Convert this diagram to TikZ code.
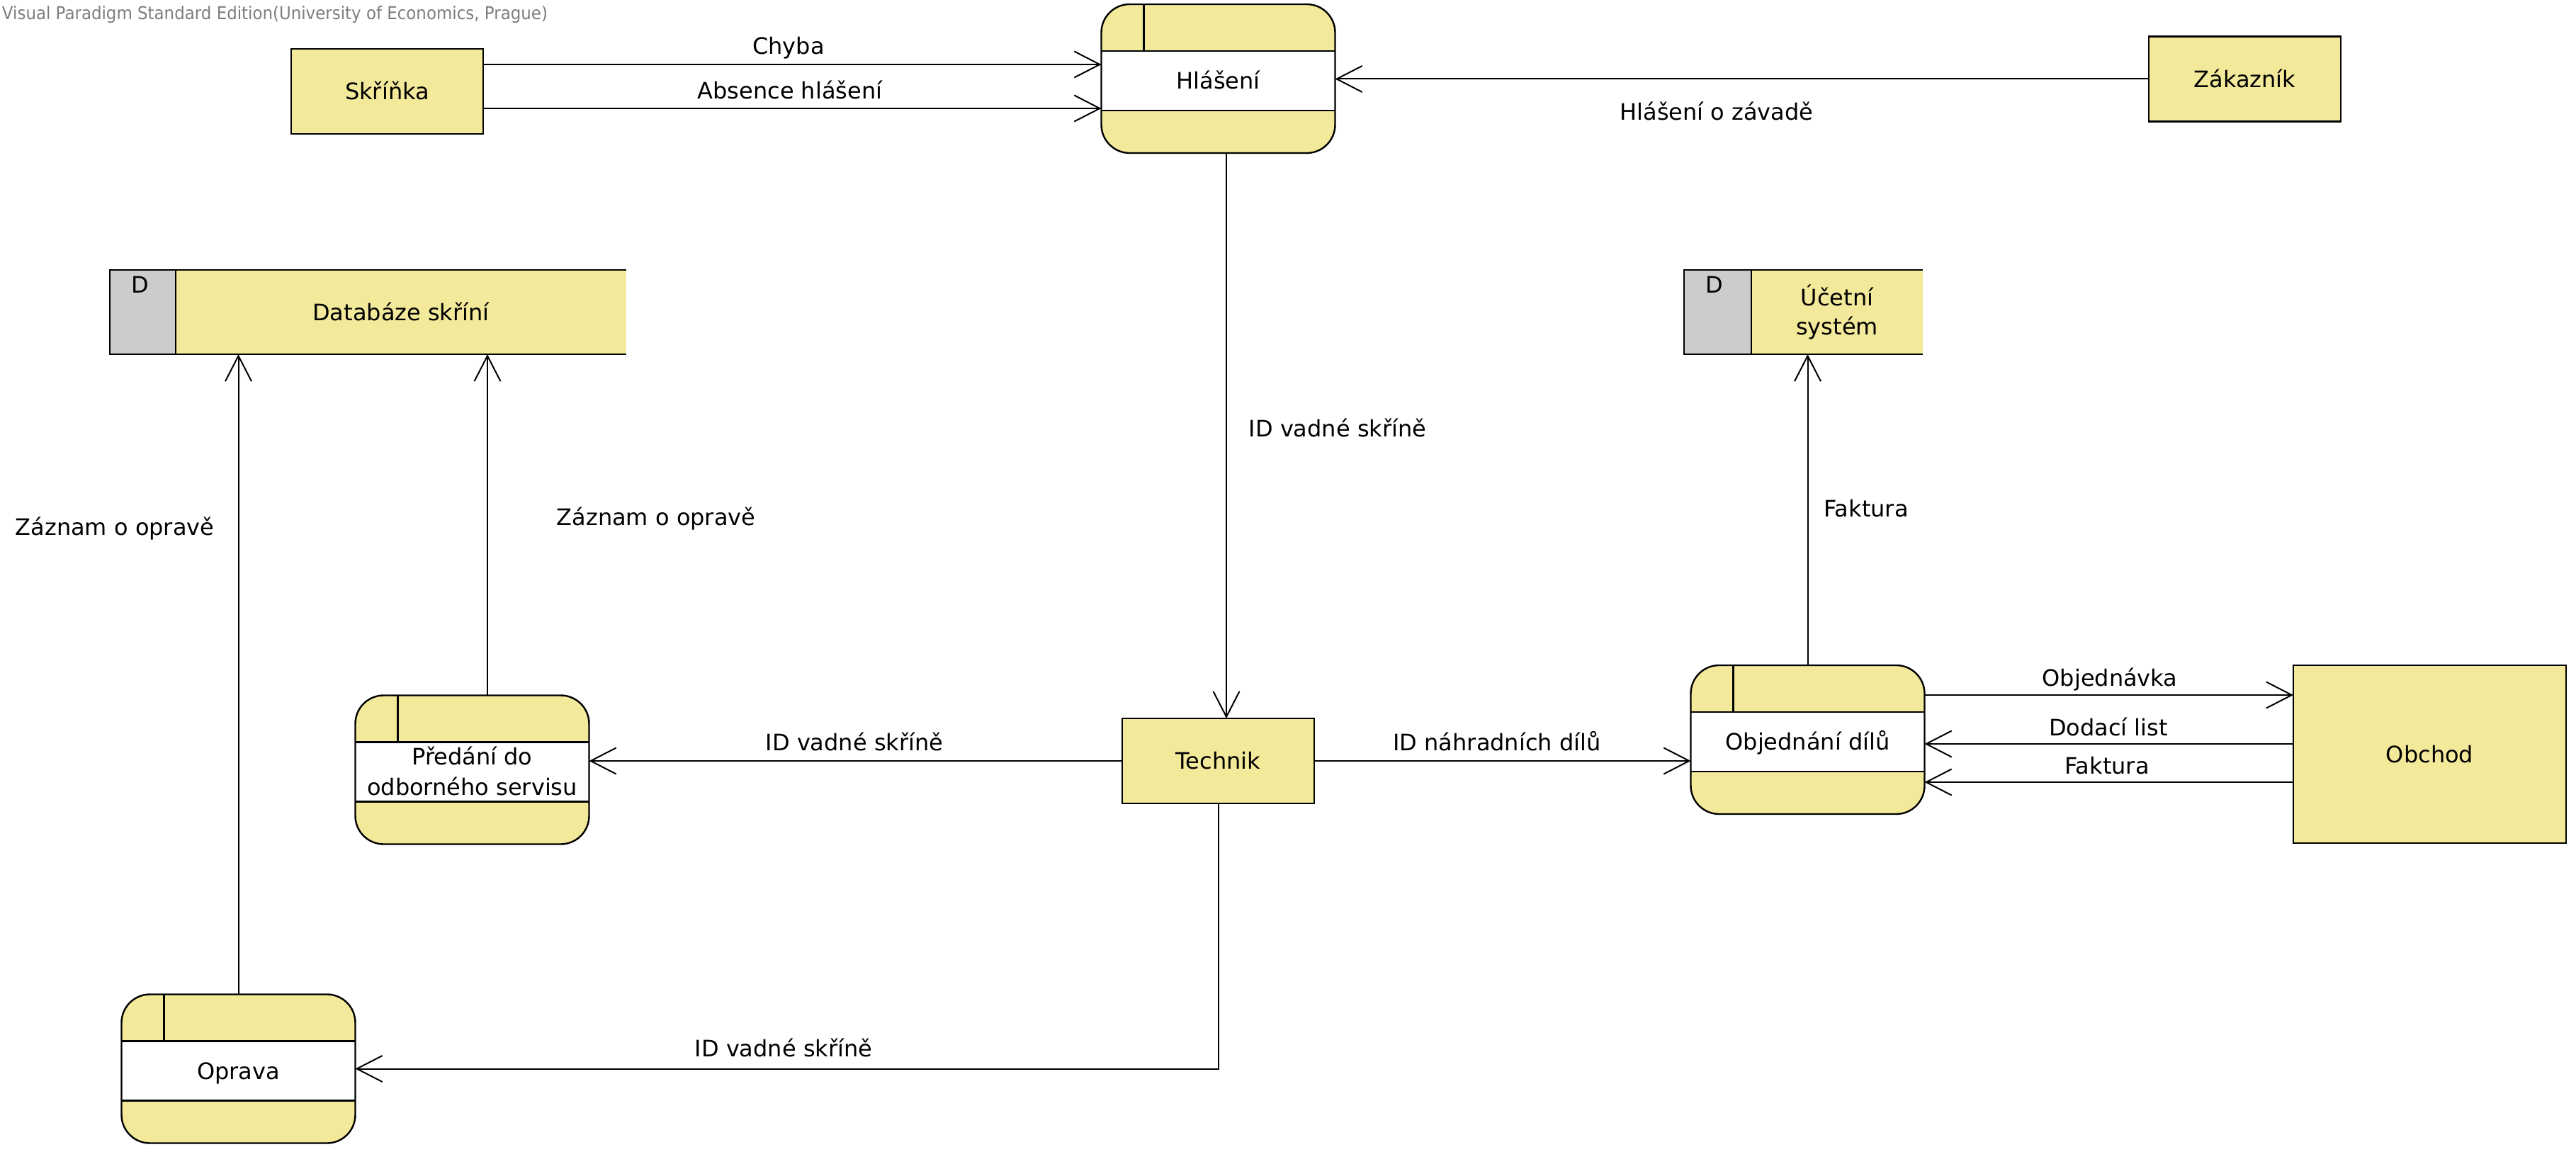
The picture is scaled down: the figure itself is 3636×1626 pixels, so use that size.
\documentclass[tikz,border=0pt]{standalone}
\usepackage{fontspec}
\setmainfont{DejaVu Sans}
\usetikzlibrary{arrows.meta,calc}

\definecolor{dfdyellow}{RGB}{243,233,154}
\definecolor{storegray}{RGB}{204,204,204}
\definecolor{markgray}{RGB}{125,125,125}

\newcommand\dfdfont{\fontsize{16}{22}\selectfont}

\tikzset{
  every node/.style={inner sep=0pt, outer sep=0pt},
  txt/.style={font=\dfdfont, text height=11.7pt, text depth=0pt, align=center},
  % two lines: box runs from the cap top of line 1 to the baseline of line 2
  twolines/.style={text height=11.7pt+#1},
  entity/.style={draw, fill=dfdyellow, line width=1.2pt, minimum width=135.5pt, minimum height=60pt},
  procfill/.style={fill=dfdyellow, rounded corners=20pt, minimum width=165pt, minimum height=105pt},
  storefill/.style={fill=dfdyellow, minimum height=59.5pt},
  boxline/.style={line width=1.2pt},
  flow/.style={line width=1pt, -{Straight Barb[length=18pt,width=18.5pt]}},
}

% process: rounded box with a white name band and an id cell
\newcommand\dfdprocess[4][]{%
  \node[procfill] (#2) at (#3) {};
  \fill[white] ($(#2.north west)+(0,66)$) rectangle ($(#2.north east)+(0,150)$);
  \draw[boxline] ($(#2.north west)+(0,66)$) -- ($(#2.north east)+(0,66)$)
                 ($(#2.north west)+(0,150)$) -- ($(#2.north east)+(0,150)$)
                 ($(#2.north west)+(60,0)$) -- ($(#2.north west)+(60,66)$);
  \draw[boxline, rounded corners=20pt] (#2.north west) rectangle (#2.south east);
  \node[txt, #1] (#2-text) at ($(#2.north)+(0,108)$) {#4};
}

% data store: open on the right, grey id cell on the left
\newcommand\dfdstore[6][]{%
  \node[storefill, minimum width=#4] (#2) at (#3) {};
  \fill[storegray] (#2.north west) rectangle ($(#2.south west)+(#5,0)$);
  \draw[boxline] (#2.north east) -- (#2.north west) -- (#2.south west) -- (#2.south east)
                 ($(#2.north west)+(#5,0)$) -- ($(#2.south west)+(#5,0)$);
  \node[txt] (#2-id) at ($(#2.north west)+(43,21)$) {D};
  \node[txt, #1] (#2-text) at ($(#2.east)!0.5!(#2.west)+(#5/2,0)$) {#6};
}

\begin{document}
\begin{tikzpicture}[x=0.5pt, y=-0.5pt]
  \fill[white] (0,0) rectangle (3636,1626);
  \useasboundingbox (0,0) rectangle (3636,1626);

  \node[anchor=base west, text=markgray, font=\fontsize{12.5}{14}\selectfont] (mark) at (3,28)
    {\scalebox{0.917}[1]{Visual Paradigm Standard Edition(University of Economics, Prague)}};

  % external entities
  \node[entity, txt] (skrinka) at (546.5,129) {Skříňka};
  \node[entity, txt] (zakaznik) at (3168.5,111.5) {Zákazník};
  \node[entity, txt] (technik) at (1719.5,1074) {Technik};
  \node[entity, txt, minimum width=192.5pt, minimum height=125.5pt] (obchod) at (3429.5,1064.5) {Obchod};

  % processes
  \dfdprocess{hlaseni}{1719.5,111}{Hlášení}
  \dfdprocess[font=\fontsize{16}{21.7}\selectfont, twolines=21.7pt]{predani}{666.5,1086.5}{Předání do\\odborného servisu}
  \dfdprocess{oprava}{336.5,1508.5}{Oprava}
  \dfdprocess{objed}{2551.5,1044}{Objednání dílů}

  % data stores
  \dfdstore{db}{519.5,440.5}{364.5pt}{93}{Databáze skříní}
  \dfdstore[font=\fontsize{16}{20.5}\selectfont, twolines=20.5pt]{ucetni}{2545.5,440.5}{168.5pt}{95}{Účetní\\systém}

  % data flows
  \draw[flow] ([yshift=19pt]skrinka.east) -- ([yshift=19pt]skrinka.east -| hlaseni.west);
  \draw[flow] ([yshift=-12pt]skrinka.east) -- ([yshift=-12pt]skrinka.east -| hlaseni.west);
  \draw[flow] (zakaznik.west) -- (zakaznik.west -| hlaseni.east);
  \draw[flow] ([xshift=5.75pt]hlaseni.south) -- ([xshift=5.75pt]hlaseni.south |- technik.north);
  \draw[flow] (technik.west) -- (technik.west -| predani.east);
  \draw[flow] (technik.east) -- (technik.east -| objed.west);
  \draw[flow] (technik.south) |- (oprava.east);
  \draw[flow] ([xshift=10.75pt]predani.north) -- ([xshift=10.75pt]predani.north |- db.south);
  \draw[flow] (oprava.north) -- (oprava.north |- db.south);
  \draw[flow] (objed.north) -- (objed.north |- ucetni.south);
  \draw[flow] ([yshift=31.5pt]objed.east) -- ([yshift=31.5pt]objed.east -| obchod.west);
  \draw[flow] ([yshift=-3pt]objed.east -| obchod.west) -- ([yshift=-3pt]objed.east);
  \draw[flow] ([yshift=-30pt]objed.east -| obchod.west) -- ([yshift=-30pt]objed.east);

  % flow labels
  \node[txt] (l-chyba) at (1113,65) {Chyba};
  \node[txt] (l-absence) at (1115,128) {Absence hlášení};
  \node[txt] (l-zavada) at (2423,158) {Hlášení o závadě};
  \node[txt] (l-id1) at (1888,605) {ID vadné skříně};
  \node[txt] (l-id2) at (1206,1048) {ID vadné skříně};
  \node[txt] (l-dily) at (2113,1048) {ID náhradních dílů};
  \node[txt] (l-id3) at (1106,1480) {ID vadné skříně};
  \node[txt] (l-zaznam1) at (162,744) {Záznam o opravě};
  \node[txt] (l-zaznam2) at (926,730) {Záznam o opravě};
  \node[txt] (l-faktura1) at (2634,718) {Faktura};
  \node[txt] (l-objednavka) at (2978,957) {Objednávka};
  \node[txt] (l-dodaci) at (2976,1027) {Dodací list};
  \node[txt] (l-faktura2) at (2974,1081) {Faktura};
\end{tikzpicture}
\end{document}
